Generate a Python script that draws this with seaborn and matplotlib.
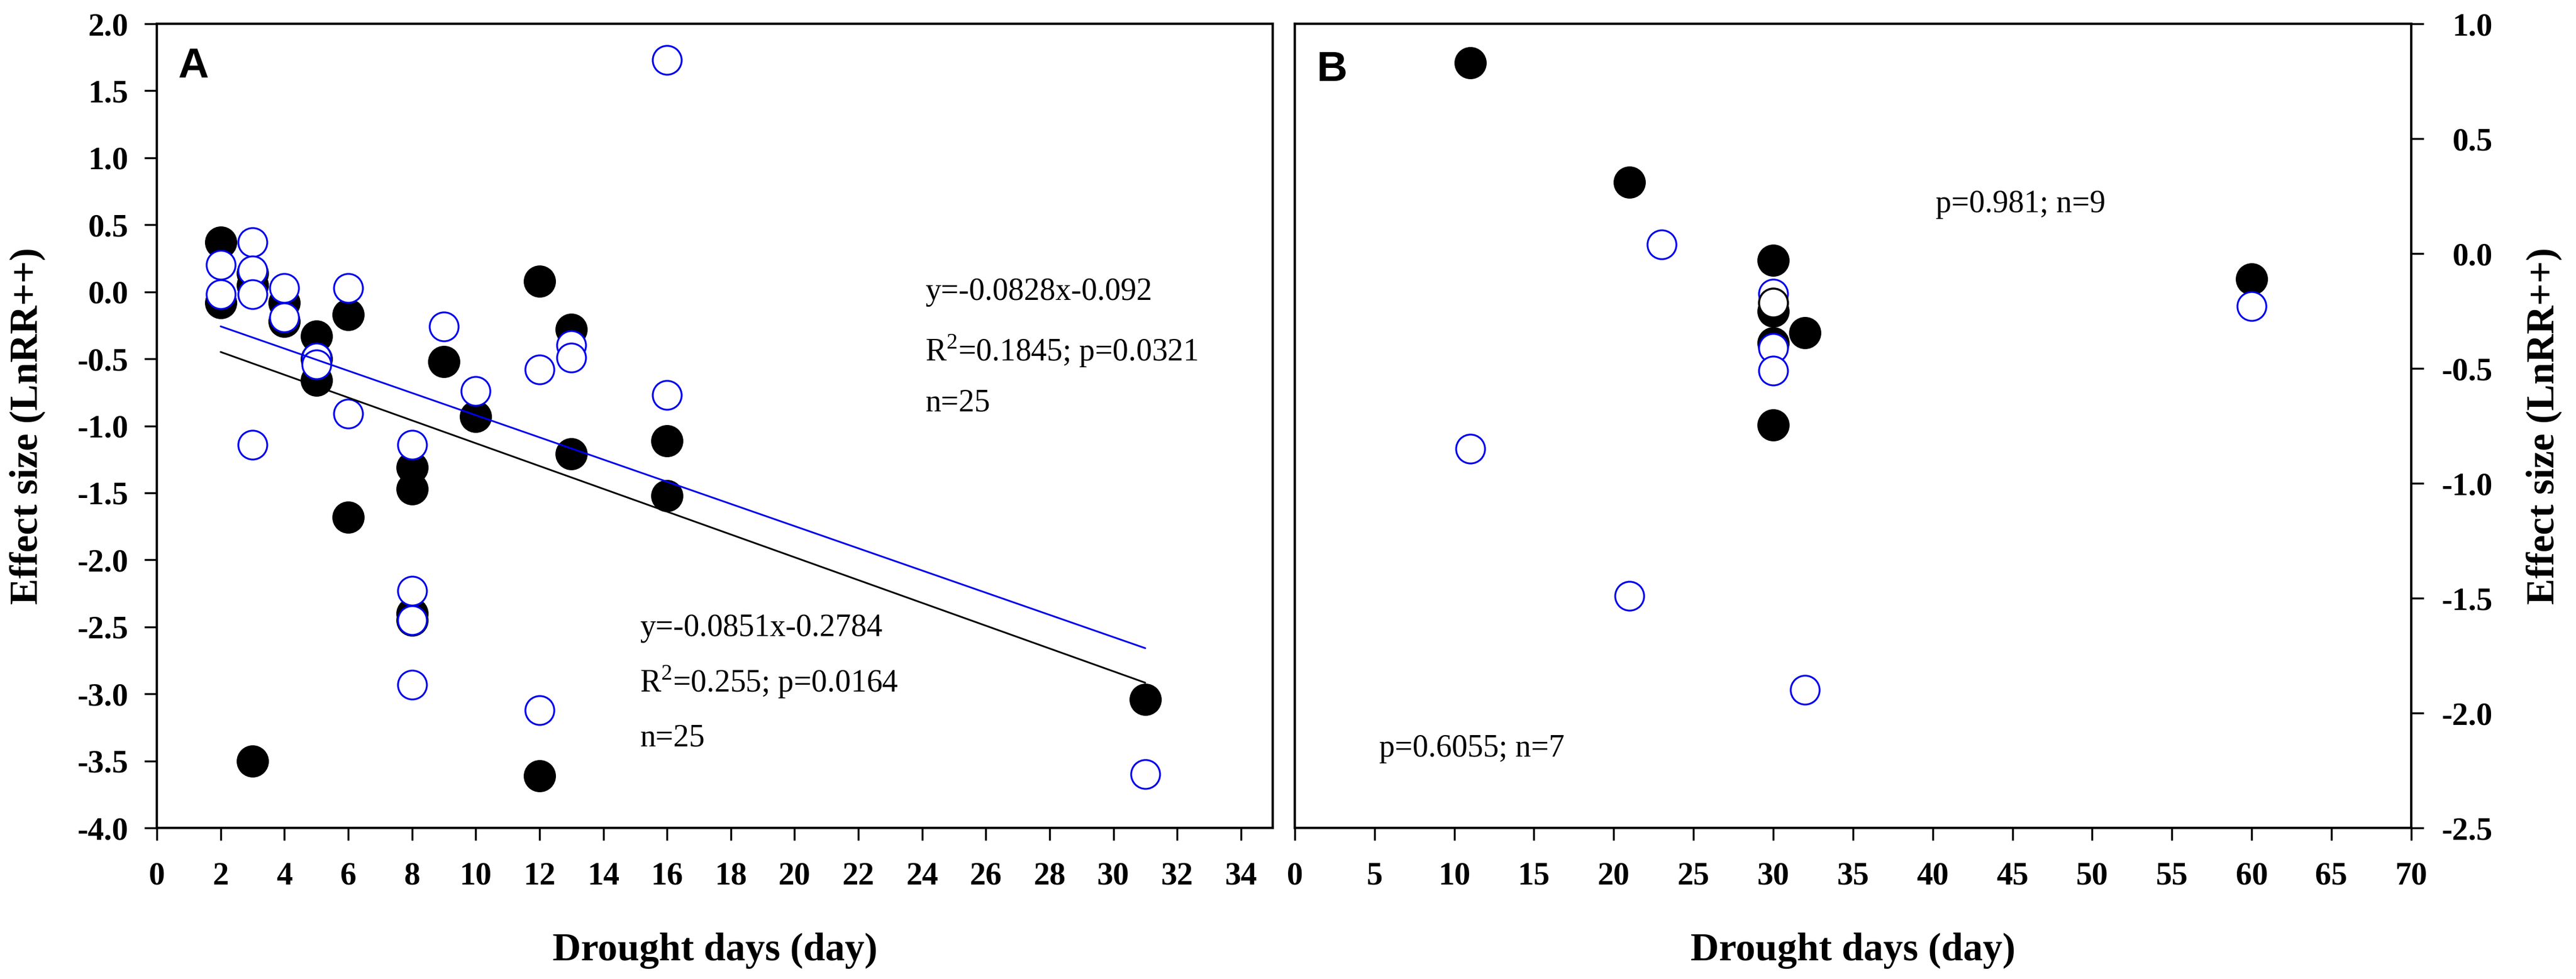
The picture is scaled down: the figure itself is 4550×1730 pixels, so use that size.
import numpy as np
import pandas as pd
import matplotlib
matplotlib.use("Agg")
import matplotlib.pyplot as plt
import seaborn as sns

# ---- panel A data (drought days vs effect size) ----
a_black_x = [2, 2, 3, 3, 3, 4, 4, 5, 5, 5, 6, 6, 8, 8, 8, 8, 9, 10, 12, 12, 13, 13, 16, 16, 31]
a_black_y = [0.37, -0.08, 0.14, 0.05, -3.50, -0.08, -0.22, -0.33, -0.50, -0.66, -0.17, -1.68,
             -1.31, -1.47, -2.40, -2.45, -0.52, -0.93, 0.08, -3.61, -0.28, -1.21, -1.11, -1.52, -3.04]
a_blue_x = [2, 2, 3, 3, 3, 3, 4, 4, 5, 5, 6, 6, 8, 8, 8, 8, 9, 10, 12, 12, 13, 13, 16, 16, 31]
a_blue_y = [0.20, -0.02, 0.37, 0.16, -0.02, -1.14, 0.03, -0.19, -0.49, -0.54, 0.03, -0.91,
            -1.14, -2.23, -2.45, -2.93, -0.26, -0.74, -0.58, -3.12, -0.40, -0.49, 1.73, -0.77, -3.60]
a_blue_fit = (-0.0828, -0.092)
a_black_fit = (-0.0851, -0.2784)
a_blue_text = ["y=-0.0828x-0.092", "R$^{2}$=0.1845; p=0.0321", "n=25"]
a_black_text = ["y=-0.0851x-0.2784", "R$^{2}$=0.255; p=0.0164", "n=25"]

# ---- panel B data ----
b_black_x = [11, 21, 30, 30, 30, 32, 30, 60]
b_black_y = [0.83, 0.31, -0.03, -0.25, -0.39, -0.345, -0.745, -0.11]
b_blue_x = [11, 21, 23, 30, 30, 30, 32, 60]
b_blue_y = [-0.85, -1.49, 0.04, -0.175, -0.41, -0.51, -1.90, -0.23]
b_ring_x = [30]
b_ring_y = [-0.215]
b_text_top = "p=0.981; n=9"
b_text_bottom = "p=0.6055; n=7"

a_xticks = list(range(0, 35, 2))
a_yticks = [-4.0, -3.5, -3.0, -2.5, -2.0, -1.5, -1.0, -0.5, 0.0, 0.5, 1.0, 1.5, 2.0]
b_xticks = list(range(0, 71, 5))
b_yticks = [-2.5, -2.0, -1.5, -1.0, -0.5, 0.0, 0.5, 1.0]

sns.set_theme(style="ticks")
plt.rcParams["font.family"] = ["Liberation Serif", "DejaVu Serif"]
plt.rcParams["axes.unicode_minus"] = False
plt.rcParams["mathtext.fontset"] = "custom"
plt.rcParams["mathtext.rm"] = "Liberation Serif"
for key in ["text.color", "axes.labelcolor", "xtick.color", "ytick.color", "axes.edgecolor"]:
    plt.rcParams[key] = "black"

BLUE = "#0000EE"
TICK_FS = 41
LABEL_FS = 50
NOTE_FS = 40
SPINE_W = 3.0

fig = plt.figure(figsize=(45.5, 17.3), dpi=100)
fig.patch.set_facecolor("white")
axA = fig.add_axes([0.0609, 0.1543, 0.4332, 0.8214])
axB = fig.add_axes([0.5026, 0.1543, 0.4334, 0.8214])


def style_axis(ax):
    for sp in ax.spines.values():
        sp.set_visible(True)
        sp.set_linewidth(SPINE_W)
        sp.set_color("black")
    ax.tick_params(direction="out", length=16, width=2.5, colors="black")
    ax.set_facecolor("white")


def draw_points(ax, bx, by, ux, uy):
    sns.scatterplot(x=bx, y=by, ax=ax, color="black", s=1680, linewidth=0,
                    legend=False, zorder=3)
    sns.scatterplot(x=ux, y=uy, ax=ax, color="white", edgecolor=BLUE, s=1350,
                    linewidth=2.3, legend=False, zorder=4)


# Panel A
draw_points(axA, a_black_x, a_black_y, a_blue_x, a_blue_y)
for xs, fit, col in [(a_blue_x, a_blue_fit, BLUE), (a_black_x, a_black_fit, "black")]:
    line_x = np.array([min(xs), max(xs)])
    line_df = pd.DataFrame({"x": line_x, "y": fit[0] * line_x + fit[1]})
    sns.lineplot(data=line_df, x="x", y="y", ax=axA, color=col, linewidth=2.2,
                 zorder=5, legend=False)

axA.set_xlim(0, 35)
axA.set_ylim(-4.0, 2.0)
axA.set_xticks(a_xticks)
axA.set_yticks(a_yticks)
axA.set_yticklabels([f"{v:.1f}" for v in a_yticks])
style_axis(axA)
axA.tick_params(axis="x", pad=27, labelsize=TICK_FS)
axA.tick_params(axis="y", pad=20, labelsize=TICK_FS)
for lab in axA.get_xticklabels() + axA.get_yticklabels():
    lab.set_fontweight("bold")
axA.set_xlabel("Drought days (day)", fontsize=LABEL_FS, fontweight="bold")
axA.set_ylabel("Effect size (LnRR++)", fontsize=LABEL_FS, fontweight="bold")
axA.xaxis.set_label_coords(0.5, -0.153)
axA.xaxis.label.set_va("center")
axA.yaxis.set_label_coords(-0.116, 0.5)
axA.yaxis.label.set_va("center")

for txt, yy in zip(a_blue_text, [0.0, -0.44, -0.83]):
    axA.text(24.1, yy, txt, fontsize=NOTE_FS, va="center", ha="left")
for txt, yy in zip(a_black_text, [-2.51, -2.91, -3.33]):
    axA.text(15.15, yy, txt, fontsize=NOTE_FS, va="center", ha="left")
axA.text(0.019, 0.971, "A", transform=axA.transAxes, fontsize=54, fontweight="bold",
         family="Liberation Sans", va="top", ha="left", color="black")

# Panel B
draw_points(axB, b_black_x, b_black_y, b_blue_x, b_blue_y)
sns.scatterplot(x=b_ring_x, y=b_ring_y, ax=axB, color="white", edgecolor="black",
                s=1350, linewidth=2.6, legend=False, zorder=5)
axB.set_xlim(0, 70)
axB.set_ylim(-2.5, 1.0)
axB.set_xticks(b_xticks)
axB.set_yticks(b_yticks)
axB.set_yticklabels([f"{v:.1f}" for v in b_yticks])
style_axis(axB)
axB.yaxis.tick_right()
axB.yaxis.set_label_position("right")
axB.tick_params(axis="x", pad=27, labelsize=TICK_FS)
axB.tick_params(axis="y", pad=88, labelsize=TICK_FS, left=False, right=True)
for lab in axB.get_yticklabels():
    lab.set_horizontalalignment("right")
for lab in axB.get_xticklabels() + axB.get_yticklabels():
    lab.set_fontweight("bold")
axB.set_xlabel("Drought days (day)", fontsize=LABEL_FS, fontweight="bold")
axB.set_ylabel("Effect size (LnRR++)", fontsize=LABEL_FS, fontweight="bold",
               rotation=90)
axB.xaxis.set_label_coords(0.5, -0.153)
axB.xaxis.label.set_va("center")
axB.yaxis.set_label_coords(1.119, 0.5)
axB.yaxis.label.set_va("center")

axB.text(40.2, 0.215, b_text_top, fontsize=NOTE_FS, va="center", ha="left")
axB.text(5.3, -2.155, b_text_bottom, fontsize=NOTE_FS, va="center", ha="left")
axB.text(0.02, 0.967, "B", transform=axB.transAxes, fontsize=54, fontweight="bold",
         family="Liberation Sans", va="top", ha="left", color="black")

fig.savefig("out.png", dpi=100, facecolor="white")
